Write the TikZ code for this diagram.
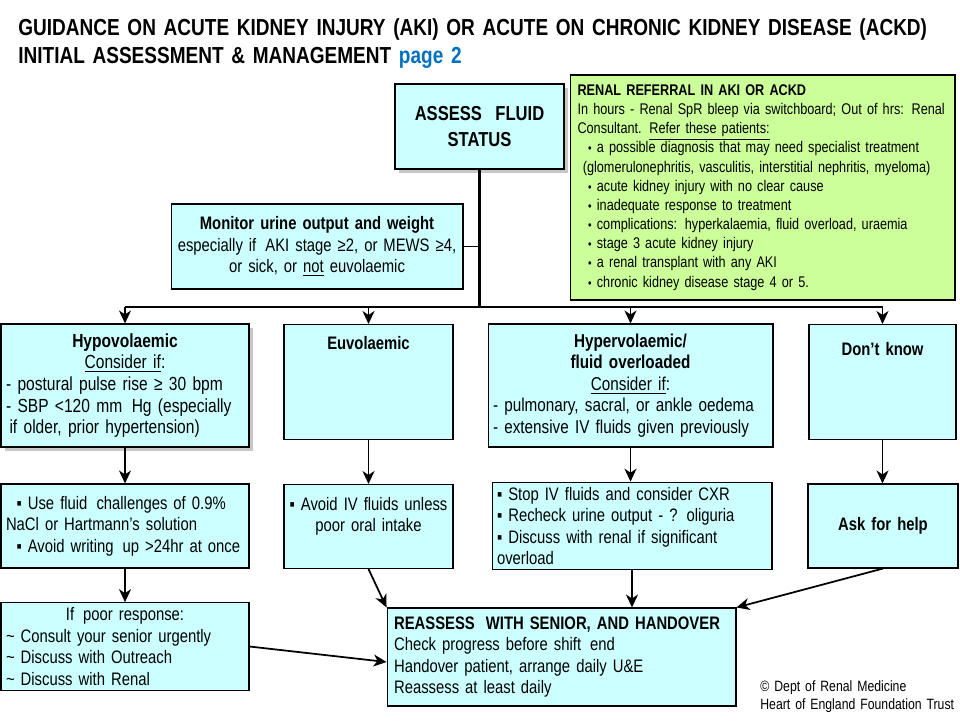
\documentclass[tikz,border=0pt]{standalone}
\usepackage{fontspec}
\setmainfont{Liberation Sans}[FakeStretch=0.82, WordSpace=0.75]
\usetikzlibrary{arrows.meta,positioning,shadows}
\definecolor{GuideCyan}{HTML}{CCFFFF}
\definecolor{GuideGreen}{HTML}{CCFF99}
\definecolor{GuideBlue}{HTML}{0070C0}
\hyphenpenalty=10000
\exhyphenpenalty=10000
\newcommand{\ctrline}[1]{\makebox[\linewidth]{#1}}
\newcommand{\sqb}{\hspace*{6pt}▪ }
\newcommand{\dotb}{\hspace*{6pt}{\scriptsize •}\hspace{3pt}}
\tikzset{
  box/.style={draw=black, line width=0.6pt, fill=GuideCyan, inner xsep=0.1cm, inner ysep=0.1cm,
              align=left, font=\fontsize{10.3}{12.2}\selectfont},
  refer/.style={box, fill=GuideGreen, inner xsep=0.15cm, font=\fontsize{8.8}{10.9}\selectfont},
  lifted/.style={drop shadow={shadow xshift=2.5pt, shadow yshift=-2.5pt, fill=black, opacity=0.22}},
  toptext/.style={anchor=north, inner ysep=0pt, text height=#1},
  flow/.style={-{Stealth[length=2.6mm,width=2.4mm,inset=0.8mm]}, line width=1pt},
  trunk/.style={line width=1.7pt},
  bar/.style={line width=1.1pt},
  link/.style={line width=0.6pt},
}
\begin{document}
\begin{tikzpicture}[x=0.02cm,y=-0.02cm]
    \useasboundingbox[fill=white] (0,0) rectangle (960,720);
    \node[anchor=base west, text width=18.8cm, align=left, inner sep=0pt,
          font=\fontsize{13.2}{16.4}\selectfont\bfseries] (title) at (18,35)
          {GUIDANCE ON ACUTE KIDNEY INJURY (AKI) OR ACUTE ON CHRONIC KIDNEY DISEASE (ACKD)\\
           INITIAL ASSESSMENT \& MANAGEMENT {\color{GuideBlue} page 2}};
    \node[box,lifted,text width=3.18cm,minimum height=1.7cm,align=center,
          font=\fontsize{11.5}{14.5}\selectfont\bfseries] (assess) at (479.5,126.5) {ASSESS~ FLUID\\STATUS};
    \node[refer,text width=7.4cm,minimum height=4.5cm] (renal) at (762.5,187.5)
          {\textbf{RENAL REFERRAL IN AKI OR ACKD}\\
           In hours - Renal SpR bleep via switchboard; Out of hrs: Renal\\
           Consultant. \underline{Refer these patients:}\\
           \dotb a possible diagnosis that may need specialist treatment\\
           \hspace*{3pt}(glomerulonephritis, vasculitis, interstitial nephritis, myeloma)\\
           \dotb acute kidney injury with no clear cause\\
           \dotb inadequate response to treatment\\
           \dotb complications: hyperkalaemia, fluid overload, uraemia\\
           \dotb stage 3 acute kidney injury\\
           \dotb a renal transplant with any AKI\\
           \dotb chronic kidney disease stage 4 or 5.};
    \node[box,text width=5.64cm,minimum height=1.7cm,align=center] (monitor) at (317,246.5)
          {\textbf{Monitor urine output and weight}\\especially if\, AKI stage ≥2, or MEWS ≥4,\\or sick, or \underline{not} euvolaemic};
    \node[box,lifted,text width=4.76cm,minimum height=2.46cm,font=\fontsize{10.8}{12.3}\selectfont] (hypo) at (125,385.5)
          {\ctrline{\textbf{Hypovolaemic}}\\\ctrline{\underline{Consider if}:}\\
           - postural pulse rise ≥ 30 bpm\\- SBP <120 mm\, Hg (especially\\\hspace*{2pt}if older, prior hypertension)};
    \node[box,toptext=0.5cm,text depth=1.8cm,text width=3.18cm,align=center] (euvol) at (368.5,324) {\textbf{Euvolaemic}};
    \node[box,text width=5.5cm,minimum height=2.46cm,font=\fontsize{10.6}{12.3}\selectfont] (hyper) at (630.5,385.5)
          {\ctrline{\textbf{Hypervolaemic/}}\\\ctrline{\textbf{fluid overloaded}}\\\ctrline{\underline{Consider if}:}\\
           - pulmonary, sacral, or ankle oedema\\- extensive IV fluids given previously};
    \node[box,toptext=0.62cm,text depth=1.68cm,text width=2.74cm,align=center] (dunno) at (882.5,324) {\textbf{Don’t know}};
    \node[box,text width=4.76cm,minimum height=1.68cm] (fluids) at (125,526)
          {\sqb Use fluid\, challenges of 0.9\%\\NaCl or Hartmann’s solution\\\sqb Avoid writing\, up >24hr at once};
    \node[box,toptext=0.52cm,text depth=1.16cm,text width=3.18cm,align=center] (avoid) at (368.5,484)
          {▪ Avoid IV fluids unless\\poor oral intake};
    \node[box,text width=5.4cm,minimum height=1.68cm] (stop) at (632,526)
          {▪ Stop IV fluids and consider CXR\\▪ Recheck urine output - ? oliguria\\▪ Discuss with renal if significant\\overload};
    \node[box,text width=2.8cm,minimum height=1.68cm,align=center] (help) at (883,526) {\textbf{Ask for help}};
    \node[box,text width=4.76cm,minimum height=1.7cm] (poor) at (125,646.5)
          {\ctrline{If\, poor response:}\\\textasciitilde{} Consult your senior urgently\\
           \textasciitilde{} Discuss with Outreach\\\textasciitilde{} Discuss with Renal};
    \node[box,inner xsep=0.14cm,text width=6.7cm,minimum height=1.96cm] (reass) at (561.5,657)
          {\textbf{REASSESS\; WITH SENIOR, AND HANDOVER}\\Check progress before shift\, end\\
           Handover patient, arrange daily U\&E\\Reassess at least daily};
    \node[anchor=base west, text width=4cm, align=left, inner sep=0pt,
          font=\fontsize{8.5}{10.6}\selectfont] (credit) at (760,691)
          {© Dept of Renal Medicine\\Heart of England Foundation Trust};
    \coordinate (split) at (479.5,307);
    \draw[trunk] (assess) -- (split);
    \draw[link] (monitor) -- (monitor -| assess);
    \draw[bar] (hypo.north |- split) -- (dunno.north |- split);
    \draw[flow] (hypo.north |- split) -- (hypo);
    \draw[flow] (euvol.north |- split) -- (euvol);
    \draw[flow] (hyper.north |- split) -- (hyper);
    \draw[flow] (dunno.north |- split) -- (dunno);
    \draw[flow] (hypo) -- (fluids);
    \draw[flow] (euvol) -- (avoid);
    \draw[flow] (hyper) -- (hyper |- stop.north);
    \draw[flow] (dunno) -- (dunno |- help.north);
    \draw[flow] (fluids) -- (poor);
    \draw[flow] (avoid.south) -- (reass.north west);
    \draw[flow] (stop) -- (stop |- reass.north);
    \draw[flow] (help.south) -- (reass.north east);
    \draw[flow] (poor.east) -- ([yshift=-1mm]reass.west);
\end{tikzpicture}
\end{document}
